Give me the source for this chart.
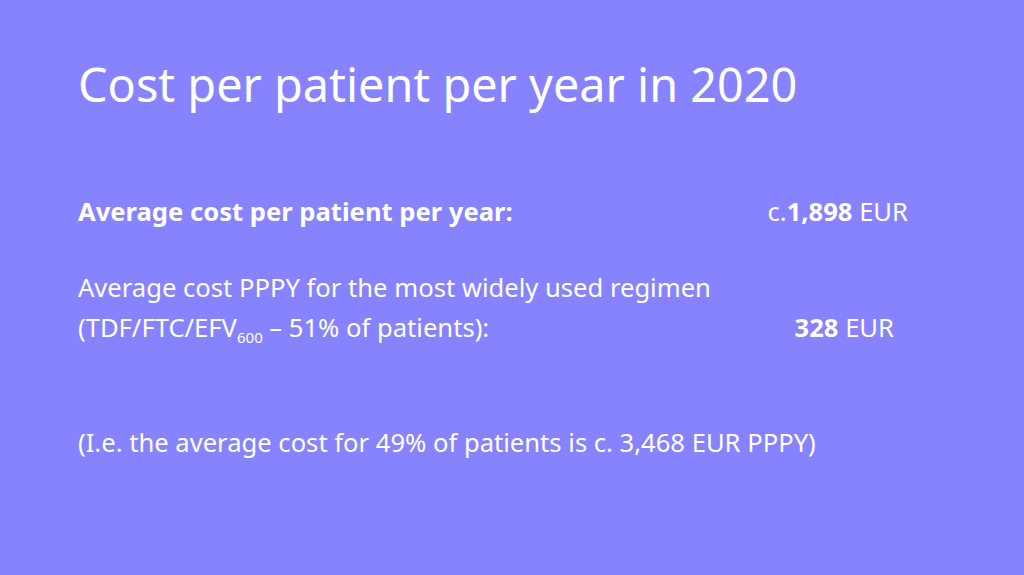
import { useEffect } from "react"

const W = 1024
const H = 575
const BG = "#8783ff"

const title = "Cost per patient per year in 2020"
const avgLabel = "Average cost per patient per year:"
const avgValue = "1,898"
const regimenLine1 = "Average cost PPPY for the most widely used regimen"
const regimenName = "(TDF/FTC/EFV"
const regimenSub = "600"
const regimenShare = " – 51% of patients):"
const regimenValue = "328"
const note = "(I.e. the average cost for 49% of patients is c. 3,468 EUR PPPY)"

const font = "'Noto Sans', 'Open Sans', sans-serif"
const body = 25.6

export default function App() {
  useEffect(() => {
    document.body.style.margin = "0"
  }, [])

  return (
    <svg width={W} height={H} style={{ display: "block" }} fontFamily={font} fill="#ffffff">
      <rect width={W} height={H} fill={BG} />
      <text x={78} y={102} fontSize={46.8}>
        {title}
      </text>

      <text x={78} y={221} fontSize={body} fontWeight="bold">
        {avgLabel}
      </text>
      <text x={908} y={221} fontSize={body} textAnchor="end">
        c.<tspan fontWeight="bold">{avgValue}</tspan> EUR
      </text>

      <text x={78} y={297} fontSize={body}>
        {regimenLine1}
      </text>
      <text x={78} y={337} fontSize={body}>
        {regimenName}
        <tspan fontSize={15} dy={6}>
          {regimenSub}
        </tspan>
        <tspan dy={-6}>{regimenShare}</tspan>
      </text>
      <text x={894} y={337} fontSize={body} textAnchor="end">
        <tspan fontWeight="bold">{regimenValue}</tspan> EUR
      </text>

      <text x={78} y={452} fontSize={body}>
        {note}
      </text>
    </svg>
  )
}
